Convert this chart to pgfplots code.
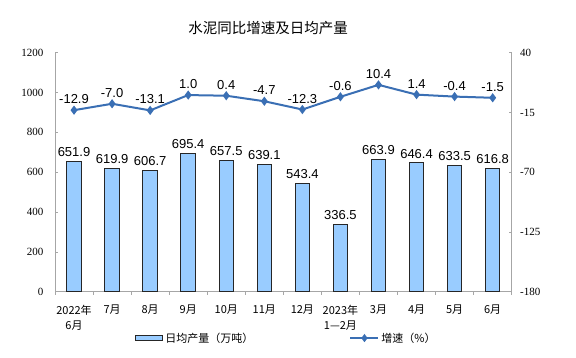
\documentclass[border=0pt]{standalone}
\usepackage{fontspec}
\setmainfont{Liberation Serif}
\newfontfamily\cjk{Noto Sans CJK SC}
\newfontfamily\arial{Liberation Sans}
\usepackage{pgfplots}
\pgfplotsset{compat=1.18}
\definecolor{barfill}{HTML}{99CCFF}
\definecolor{linec}{HTML}{3A6FB4}
\definecolor{axgray}{HTML}{A6A6A6}
\pgfplotsset{
  barlegend/.style={legend image code/.code={\draw[fill=barfill, draw=black!85, line width=1pt] (0pt,-2.8pt) rectangle (27pt,2.8pt);}},
  linelegend/.style={legend image code/.code={\draw[##1, mark repeat=2, mark phase=2] plot coordinates {(0pt,0pt) (14pt,0pt) (28pt,0pt)};}},
}
\begin{document}
\begin{tikzpicture}
\path[use as bounding box] (0pt,0pt) rectangle (576pt,357pt);
\node[font=\cjk\fontsize{14.5}{16}\selectfont] at (268pt,329pt) {水泥同比增速及日均产量};
\begin{axis}[
  at={(55pt,65.3pt)}, anchor=south west,
  scale only axis, width=456.7pt, height=239pt,
  xmin=-0.5, xmax=11.5, ymin=0, ymax=1200,
  ytick={0,200,...,1200},
  axis y line*=left, axis x line*=bottom,
  axis line style={axgray, line width=0.8pt},
  clip=false,
  xtick={0,...,11},
  xticklabels={{2022年\\6月},7月,8月,9月,10月,11月,12月,{2023年\\1—2月},3月,4月,5月,6月},
  major x tick style={draw=none},
  minor xtick={-0.5,0.5,...,11.5},
  minor x tick style={axgray, line width=0.6pt},
  minor tick length=3pt,
  major tick length=3pt,
  xtick align=outside,
  ytick align=inside,
  y tick style={axgray, line width=0.6pt},
  xticklabel style={font=\cjk\fontsize{11}{15}\selectfont, align=center, yshift=-7pt},
  yticklabel style={font=\fontsize{11}{11}\selectfont, xshift=-8pt},
  /pgf/number format/assume math mode=true,
  /pgf/number format/1000 sep={},
  legend style={at={(0.507,-0.194)}, anchor=center, draw=none, fill=none,
    legend columns=2, font=\cjk\fontsize{11}{11}\selectfont,
    /tikz/every even column/.append style={column sep=94pt}},
]
\addplot[ybar, bar width=14.5pt, fill=barfill, draw=black!85, line width=1pt,
  nodes near coords={\pgfmathprintnumber[fixed,fixed zerofill,precision=1]{\pgfplotspointmeta}},
  nodes near coords style={font=\arial\fontsize{13}{13}\selectfont, text=black, yshift=1pt},
  barlegend
] coordinates {
(0,651.9) (1,619.9) (2,606.7) (3,695.4) (4,657.5) (5,639.1)
(6,543.4) (7,336.5) (8,663.9) (9,646.4) (10,633.5) (11,616.8)};
\addlegendentry{日均产量（万吨）}
\addlegendimage{linec, line width=2pt, mark=diamond*, mark size=2.5pt, linelegend}
\addlegendentry{增速（\%）}
\end{axis}
\begin{axis}[
  at={(55pt,65.3pt)}, anchor=south west,
  scale only axis, width=456.7pt, height=239pt,
  xmin=-0.5, xmax=11.5, ymin=-180, ymax=40,
  ytick={-180,-125,-70,-15,40},
  axis y line*=right, axis x line=none,
  axis line style={axgray, line width=0.8pt},
  clip=false,
  major tick length=3pt,
  ytick align=inside,
  y tick style={axgray, line width=0.6pt},
  yticklabel style={font=\fontsize{11}{11}\selectfont, xshift=5pt},
  /pgf/number format/assume math mode=true,
]
\addplot[linec, line width=2pt, mark=diamond*, mark size=3pt, mark options={solid},
  nodes near coords={\pgfmathprintnumber[fixed,fixed zerofill,precision=1]{\pgfplotspointmeta}},
  nodes near coords style={font=\arial\fontsize{13}{13}\selectfont, text=black, yshift=2pt, anchor=south},
] coordinates {
(0,-12.9) (1,-7.0) (2,-13.1) (3,1.0) (4,0.4) (5,-4.7)
(6,-12.3) (7,-0.6) (8,10.4) (9,1.4) (10,-0.4) (11,-1.5)};
\end{axis}
\end{tikzpicture}
\end{document}
